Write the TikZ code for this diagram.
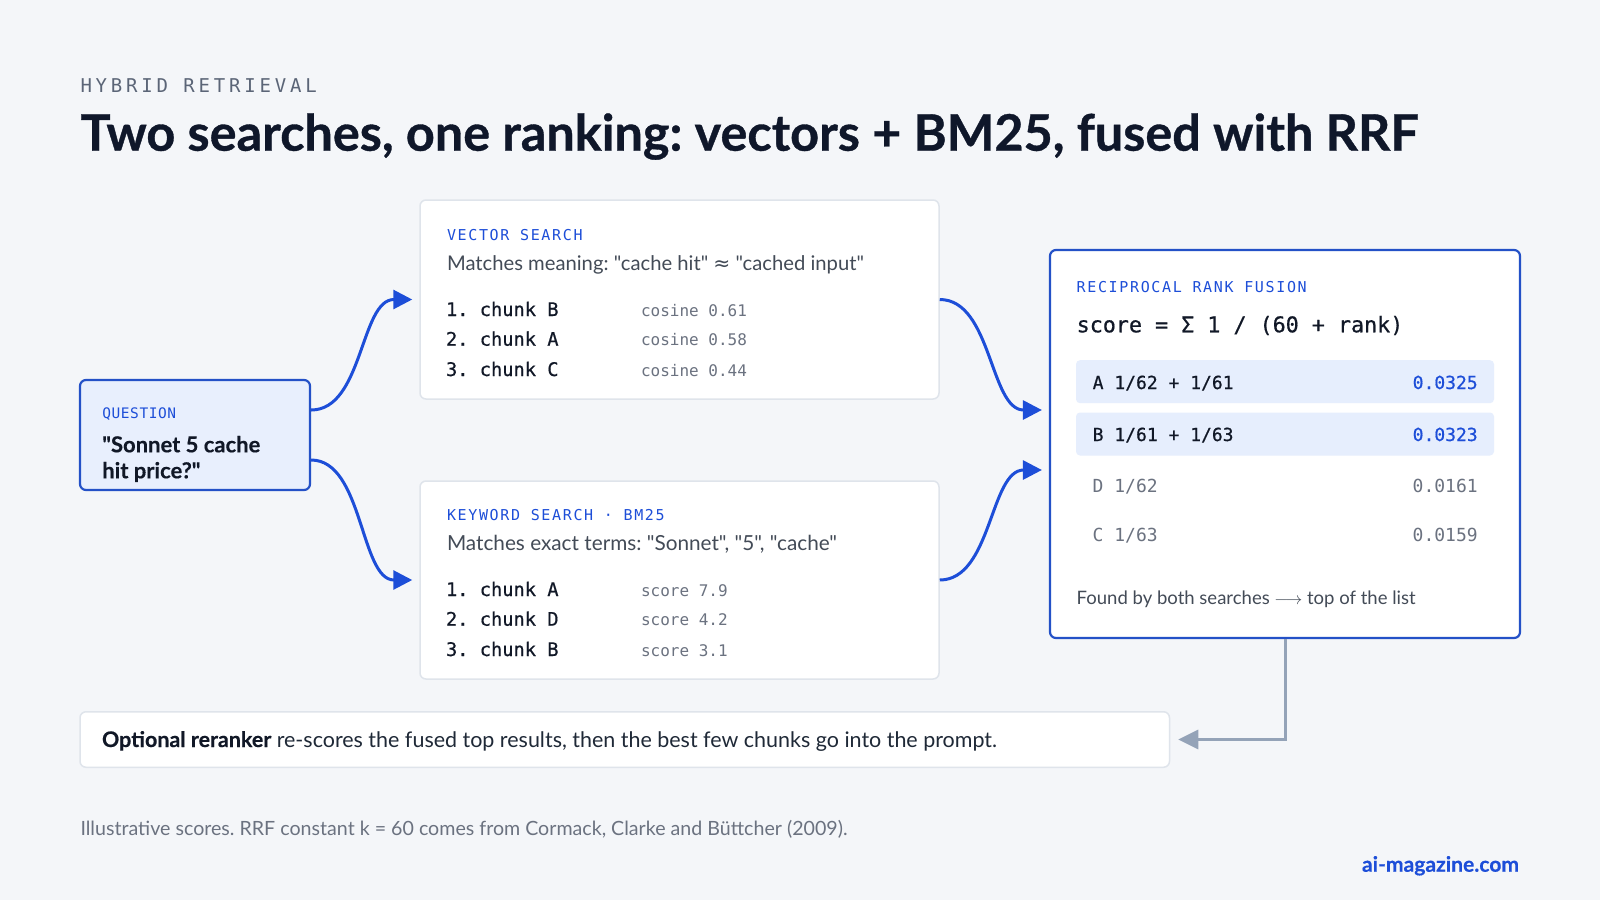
\documentclass[tikz,border=0pt]{standalone}
\usepackage{fontspec}
\setmainfont{Lato}[Ligatures=TeXOff]
\newfontfamily\heavy{Lato}[Ligatures=TeXOff, FakeBold=0.7]
\newfontfamily\semiheavy{Lato}[Ligatures=TeXOff, FakeBold=0.35]
\newfontfamily\mono{DejaVu Sans Mono}
\newfontfamily\monoB{DejaVu Sans Mono}[FakeBold=0.6]
\newfontfamily\monoKicker[LetterSpace=20]{DejaVu Sans Mono}
\newfontfamily\monoLabel[LetterSpace=11]{DejaVu Sans Mono}
\newfontfamily\monoQ[LetterSpace=4]{DejaVu Sans Mono}
\newfontfamily\dejavu{DejaVu Sans}
\usetikzlibrary{arrows.meta,calc}
\frenchspacing

\definecolor{bg}{HTML}{F4F6F9}
\definecolor{ink}{HTML}{0F172A}
\definecolor{dark}{HTML}{111827}
\definecolor{accent}{HTML}{1D4ED8}
\definecolor{bordblue}{HTML}{2451C7}
\definecolor{qfill}{HTML}{E8EFFD}
\definecolor{rowfill}{HTML}{E6EEFD}
\definecolor{cardline}{HTML}{DFE4EB}
\definecolor{bodygray}{HTML}{434B57}
\definecolor{monogray}{HTML}{6B7280}
\definecolor{kicker}{HTML}{5B6577}
\definecolor{elbow}{HTML}{94A3B8}
\definecolor{rergray}{HTML}{1F2937}

\newlength\tmpw
\newcommand\fitsize[4]{\settowidth\tmpw{\fontsize{10pt}{12pt}\selectfont#3#4}\pgfmathsetmacro#1{10*#2/\tmpw}}

\tikzset{
  txt/.style={anchor=base west, inner sep=0pt, outer sep=0pt},
  txtr/.style={anchor=base east, inner sep=0pt, outer sep=0pt},
  card/.style={draw=cardline, line width=1.5pt, fill=white, rounded corners=6pt, inner sep=0pt},
  bluecard/.style={draw=bordblue, line width=2.2pt, rounded corners=6pt, inner sep=0pt},
  rowbox/.style={fill=rowfill, rounded corners=4pt, inner sep=0pt, minimum width=418pt, minimum height=43pt},
  flow/.style={draw=accent, line width=3pt, -{Triangle[length=19pt,width=19pt]}},
  back/.style={draw=elbow, line width=3pt, -{Triangle[length=20pt,width=19pt]}},
  kickerfont/.style={font=\monoKicker\fontsize{19pt}{22pt}\selectfont, text=kicker},
  label/.style={font=\monoLabel\fontsize{15pt}{18pt}\selectfont, text=accent},
  chunk/.style={font=\monoB\fontsize{18.7pt}{22pt}\selectfont, text=dark},
  metric/.style={font=\mono\fontsize{16pt}{19pt}\selectfont, text=monogray},
  rowtxt/.style={font=\monoB\fontsize{18pt}{21pt}\selectfont},
  rowtxtg/.style={font=\mono\fontsize{18pt}{21pt}\selectfont},
}

\begin{document}
\fitsize\szTitle{1338}{\heavy\bfseries}{Two searches, one ranking: vectors + BM25, fused with RRF}
\fitsize\szQ{158}{\semiheavy\bfseries}{"Sonnet 5 cache}
\fitsize\szVm{417}{}{Matches meaning: "cache hit" {\dejavu ≈} "cached input"}
\fitsize\szKm{390}{}{Matches exact terms: "Sonnet", "5", "cache"}
\fitsize\szRr{895}{}{{\semiheavy\bfseries Optional reranker} re-scores the fused top results, then the best few chunks go into the prompt.}
\fitsize\szFoot{767}{}{Illustrative scores. RRF constant k = 60 comes from Cormack, Clarke and Büttcher (2009).}
\fitsize\szFound{341}{}{Found by both searches $\longrightarrow$ top of the list}
\fitsize\szBrand{157}{\semiheavy\bfseries}{ai-magazine.com}
\begin{tikzpicture}[x=1pt,y=-1pt]
\path[use as bounding box, fill=bg] (0,0) rectangle (1600,900);

% header
\node[txt, kickerfont] (kick) at (80.5,92.3) {HYBRID RETRIEVAL};
\node[txt, font=\heavy\fontsize{\szTitle pt}{\szTitle pt}\selectfont\bfseries, text=ink] (title) at (80.5,150.7) {Two searches, one ranking: vectors + BM25, fused with RRF};

% boxes
\node[bluecard, fill=qfill, minimum width=230pt, minimum height=110pt] (q) at (195,435) {};
\node[card, minimum width=519pt, minimum height=199pt] (vec) at (679.5,299.5) {};
\node[card, minimum width=519pt, minimum height=198pt] (kw) at (679.5,580) {};
\node[bluecard, fill=white, minimum width=470pt, minimum height=388pt] (rrf) at (1285,444) {};
\node[card, minimum width=1089.5pt, minimum height=55.5pt] (rr) at (624.75,739.5) {};

% question
\node[txt, font=\monoQ\fontsize{14.5pt}{17pt}\selectfont, text=accent] (qlab) at (102.3,418.3) {QUESTION};
\node[txt, font=\semiheavy\fontsize{\szQ pt}{\szQ pt}\selectfont\bfseries, text=dark] (q1) at (102.3,452.3) {"Sonnet 5 cache};
\node[txt, font=\semiheavy\fontsize{\szQ pt}{\szQ pt}\selectfont\bfseries, text=dark] (q2) at (102.3,478.3) {hit price?"};

% vector search
\node[txt, label] (vlab) at (447,240) {VECTOR SEARCH};
\node[txt, font=\fontsize{\szVm pt}{\szVm pt}\selectfont, text=bodygray] (vdesc) at (447,270) {Matches meaning: "cache hit" {\dejavu ≈} "cached input"};
\node[txt, chunk] (v1) at (446,316) {1. chunk B};
\node[txt, chunk] (v2) at (446,345.7) {2. chunk A};
\node[txt, chunk] (v3) at (446,376) {3. chunk C};
\node[txt, metric] (v1s) at (641,316) {cosine 0.61};
\node[txt, metric] (v2s) at (641,345.7) {cosine 0.58};
\node[txt, metric] (v3s) at (641,376) {cosine 0.44};

% keyword search
\node[txt, label] (klab) at (447,520) {KEYWORD SEARCH · BM25};
\node[txt, font=\fontsize{\szKm pt}{\szKm pt}\selectfont, text=bodygray] (kdesc) at (447,550) {Matches exact terms: "Sonnet", "5", "cache"};
\node[txt, chunk] (k1) at (446,596) {1. chunk A};
\node[txt, chunk] (k2) at (446,625.7) {2. chunk D};
\node[txt, chunk] (k3) at (446,656) {3. chunk B};
\node[txt, metric] (k1s) at (641,596) {score 7.9};
\node[txt, metric] (k2s) at (641,625.7) {score 4.2};
\node[txt, metric] (k3s) at (641,656) {score 3.1};

% RRF
\node[txt, label] (rlab) at (1076.7,292.3) {RECIPROCAL RANK FUSION};
\node[txt, font=\monoB\fontsize{21.7pt}{25pt}\selectfont, text=dark] (formula) at (1076.7,332.3) {score = Σ 1 / (60 + rank)};
\node[rowbox] (rowA) at (1285,381.7) {};
\node[rowbox] (rowB) at (1285,434) {};
\node[txt, rowtxt, text=dark] (a1) at (1092.7,389) {A 1/62 + 1/61};
\node[txtr, rowtxt, text=accent] (a2) at (1477.7,389) {0.0325};
\node[txt, rowtxt, text=dark] (b1) at (1092.7,441) {B 1/61 + 1/63};
\node[txtr, rowtxt, text=accent] (b2) at (1477.7,441) {0.0323};
\node[txt, rowtxtg, text=monogray] (d1) at (1092.7,492.7) {D 1/62};
\node[txtr, rowtxtg, text=monogray] (d2) at (1477.7,492.7) {0.0161};
\node[txt, rowtxtg, text=monogray] (c1) at (1092.7,541) {C 1/63};
\node[txtr, rowtxtg, text=monogray] (c2) at (1477.7,541) {0.0159};
\node[txt, font=\fontsize{\szFound pt}{\szFound pt}\selectfont, text=bodygray] (found) at (1076.7,604) {Found by both searches $\longrightarrow$ top of the list};

% reranker
\node[txt, font=\fontsize{\szRr pt}{\szRr pt}\selectfont, text=rergray] (rrt) at (102,747) {{\semiheavy\bfseries\color{dark}Optional reranker} re-scores the fused top results, then the best few chunks go into the prompt.};

% footer
\node[txt, font=\fontsize{\szFoot pt}{\szFoot pt}\selectfont, text=monogray] (foot) at (80.5,835.7) {Illustrative scores. RRF constant k = 60 comes from Cormack, Clarke and Büttcher (2009).};
\node[txtr, font=\semiheavy\fontsize{\szBrand pt}{\szBrand pt}\selectfont\bfseries, text=accent] (brand) at (1519,871.7) {ai-magazine.com};

% connectors
\draw[flow] ($(q.east)+(0,-25)$) .. controls ($(q.east)+(52,-25)$) and ($(vec.west)+(-59,0)$) .. ($(vec.west)+(-7,0)$);
\draw[flow] ($(q.east)+(0,25)$) .. controls ($(q.east)+(52,25)$) and ($(kw.west)+(-59,0)$) .. ($(kw.west)+(-7,0)$);
\draw[flow] (vec.east) .. controls ($(vec.east)+(52,0)$) and ($(rrf.west)+(-59,-34)$) .. ($(rrf.west)+(-7,-34)$);
\draw[flow] (kw.east) .. controls ($(kw.east)+(52,0)$) and ($(rrf.west)+(-59,26)$) .. ($(rrf.west)+(-7,26)$);
\draw[back] (rrf.south) |- ($(rr.east)+(8,0)$);
\end{tikzpicture}
\end{document}
